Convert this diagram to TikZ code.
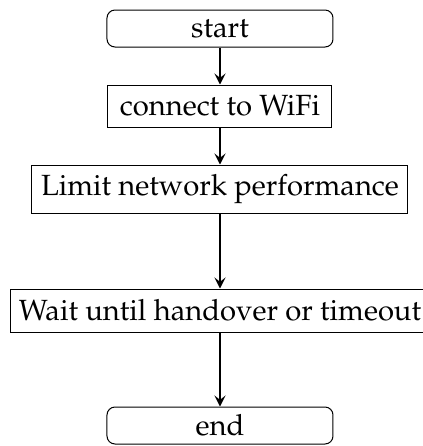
\documentclass[tikz,border=0pt]{standalone}
\usepackage[T1]{fontenc}
\usepackage{mathpazo}
\usepackage{tikz}
\usetikzlibrary{arrows.meta,positioning}

\begin{document}
\begin{tikzpicture}[
  x=0.5pt, y=0.5pt,
  font=\fontsize{14.6}{18}\selectfont,
  term/.style={draw, line width=0.5pt, rounded corners=4pt, align=center, minimum width=113pt, minimum height=18.5pt, inner sep=0pt},
  proc/.style={draw, line width=0.5pt, align=center, inner sep=0pt},
  arr/.style={-{Stealth[length=5.5pt, width=5.5pt, inset=2.2pt]}, line width=0.9pt}
]
\useasboundingbox (0,0) rectangle (423,-446);
% nodes
\node[term] (start) at (220,-28.5) {start};
\node[proc, minimum width=112pt, minimum height=21pt] (wifi) at (220,-106) {connect to WiFi};
\node[proc, minimum width=188pt, minimum height=24pt] (limit) at (220,-189) {Limit network performance};
\node[proc, minimum width=209pt, minimum height=21.5pt] (wait) at (220,-310.5) {Wait until handover or timeout};
\node[term] (end) at (220,-425.5) {end};
% arrows
\foreach \a/\b in {start/wifi,wifi/limit,limit/wait,wait/end} \draw[arr] (\a) -- (\b);
\end{tikzpicture}
\end{document}
